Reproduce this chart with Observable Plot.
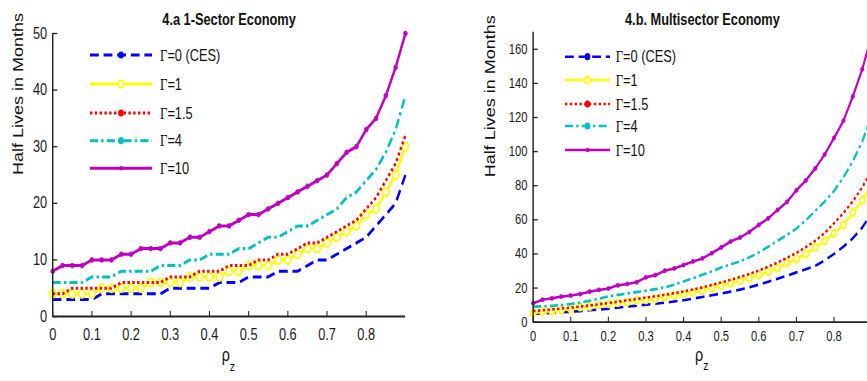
<!DOCTYPE html>
<html><head><meta charset="utf-8">
<script src="https://cdn.jsdelivr.net/npm/d3@7"></script>
<script src="https://cdn.jsdelivr.net/npm/@observablehq/plot@0.6"></script>
<style>
html,body{margin:0;padding:0;background:#fff;}
#wrap{width:867px;height:381px;overflow:hidden;position:relative;background:#fff;}
#stage{position:absolute;left:0;top:0;height:381px;transform-origin:0 0;}
#stage > *{position:absolute;top:0;}
</style></head><body>
<div id="wrap"><div id="stage"></div></div>
<script>
// ---- data ----
const rho = [0,0.025,0.05,0.075,0.1,0.125,0.15,0.175,0.2,0.225,0.25,0.275,0.3,0.325,0.35,0.375,0.4,0.425,0.45,0.475,0.5,0.525,0.55,0.575,0.6,0.625,0.65,0.675,0.7,0.725,0.75,0.775,0.8,0.825,0.85,0.875,0.9];
const legendLabels = ["Γ=0 (CES)","Γ=1","Γ=1.5","Γ=4","Γ=10"];
const xTicks = [0,0.1,0.2,0.3,0.4,0.5,0.6,0.7,0.8];
const xTickLabels = ["0","0.1","0.2","0.3","0.4","0.5","0.6","0.7","0.8"];
const yTicksA = [0,10,20,30,40,50];
const yTicksB = [0,20,40,60,80,100,120,140,160];
const titleA = "4.a 1-Sector Economy";
const titleB = "4.b. Multisector Economy";
const yLabel = "Half Lives in Months";

// 4.a 1-sector economy
const A_g0  = [3,3,3,3,3,4,4,4,4,4,4,4,5,5,5,5,5,6,6,6,7,7,7,8,8,8,9,10,10,11,12,13,14,16,18,20,25];
const A_g1  = [4,4,4,4,4,5,5,5,5,5,6,6,6,6,7,7,7,7,8,8,9,9,9,10,10,11,12,12,13,14,15,16,18,19,22,25,30];
const A_g15 = [4,4,5,5,5,5,5,6,6,6,6,6,7,7,7,8,8,8,9,9,9,10,10,11,11,12,13,13,14,15,16,17,19,21,24,27,32];
const A_g4  = [6,6,6,6,7,7,7,8,8,8,8,9,9,9,10,10,11,11,11,12,12,13,14,14,15,16,16,17,18,19,21,22,24,26,29,33,39];
const A_g10 = [8,9,9,9,10,10,10,11,11,12,12,12,13,13,14,14,15,16,16,17,18,18,19,20,21,22,23,24,25,27,29,30,33,35,39,44,50];

// 4.b multisector economy
const B_g0  = [5.0,5.2,5.5,5.8,6.1,6.5,7.0,7.4,7.9,8.5,9.1,9.7,10.3,10.8,11.4,12.1,12.9,13.8,14.8,15.8,16.8,17.9,19.1,20.5,22.0,23.7,25.5,27.3,29.2,31.0,33.0,36.2,40.0,44.3,49.2,55.5,64.0];
const B_g1  = [5.4,6.2,6.4,7.2,7.6,8.8,9.1,10.1,10.7,11.3,11.7,12.7,13.0,13.6,14.6,15.6,16.5,17.5,18.5,20.0,21.4,22.8,24.3,25.9,27.6,29.6,31.7,34.6,37.0,39.9,43.8,47.7,52.0,57.0,64.2,71.4,81.0];
const B_g15 = [6.5,7.0,7.5,8.0,8.5,9.2,9.8,10.5,11.2,12.0,12.8,13.6,14.4,15.2,16.0,17.0,18.0,19.2,20.4,21.8,23.3,24.8,26.5,28.3,30.3,32.5,35.0,37.7,40.6,44.0,47.7,52.3,58.0,64.0,71.0,79.0,89.0];
const B_g4  = [9.1,9.3,9.6,10.0,10.7,11.5,12.5,13.8,15.2,16.0,16.8,17.6,18.5,19.4,20.4,22.0,23.9,25.8,27.8,29.8,32.1,33.8,35.6,38.0,40.9,44.2,47.7,51.2,54.9,59.8,65.2,70.8,76.9,85.0,94.4,106.0,121.0];
const B_g10 = [11.1,13.2,14.0,15.0,15.6,16.5,17.9,18.9,19.7,21.6,22.4,23.4,26.3,27.6,30.2,31.5,33.5,35.6,37.4,40.5,43.8,47.3,49.6,52.9,57.0,60.9,65.8,70.5,77.3,83.1,90.1,98.3,108.0,118.1,132.4,148.3,168.0];

// ---- styles ----
const S = 0.8; // horizontal compression of the original figure
const FONT = "'Liberation Sans', Arial, Helvetica, sans-serif";
const styles = [
  {color:"#0000ff", dash:"11,6", marker:"dot"},
  {color:"#ffff00", dash:null, marker:"circle"},
  {color:"#ff0000", dash:"3,3", marker:"dot"},
  {color:"#00bfbf", dash:"10,4,3,4", marker:"dot"},
  {color:"#bf00bf", dash:null, marker:"small"}
];

const stage = document.getElementById("stage");
const W = 867 / S;
stage.style.width = W + "px";
stage.style.transform = `scale(${S},1)`;

function panel(cfg) {
  const fw = cfg.width - cfg.mL - cfg.mR;
  const fh = 381 - cfg.mT - cfg.mB;
  const TL = 5; // tick length (inward)
  const marks = [];
  cfg.vals.forEach((vals, i) => {
    const st = styles[i];
    const rows = vals.map((v, j) => ({x: rho[j], v}));
    marks.push(Plot.line(rows, {x: "x", y: "v", stroke: st.color, strokeWidth: cfg.lw,
      strokeDasharray: st.dash, strokeLinecap: "butt", strokeLinejoin: "round"}));
    if (st.marker === "circle") marks.push(Plot.dot(rows, {x: "x", y: "v", r: cfg.circleR, fill: "#fff", stroke: st.color, strokeWidth: 2}));
    if (st.marker === "small") marks.push(Plot.dot(rows, {x: "x", y: "v", r: cfg.dotR, fill: st.color, stroke: st.color, strokeWidth: 0.8}));
  });
  marks.push(Plot.ruleX([0], {stroke: "#222", strokeWidth: 1.8}));
  marks.push(Plot.ruleY([0], {stroke: "#222", strokeWidth: 1.8}));
  marks.push(Plot.tickX(xTicks, {x: d => d, insetTop: fh - TL, stroke: "#222", strokeWidth: 1.3}));
  marks.push(Plot.tickY(cfg.yTicks, {y: d => d, insetRight: fw - TL / S, stroke: "#222", strokeWidth: 1.3}));
  marks.push(Plot.axisX(xTicks, {tickSize: 0, tickPadding: cfg.xPad, fontSize: cfg.tickFont, label: null,
    tickFormat: d => xTickLabels[xTicks.indexOf(d)], fill: "#1a1a1a"}));
  marks.push(Plot.axisY(cfg.yTicks, {tickSize: 0, tickPadding: 7, fontSize: cfg.tickFont, label: null, fill: "#1a1a1a"}));
  marks.push(Plot.text([cfg.title], {text: d => d, frameAnchor: "top", dy: cfg.titleDy, fontWeight: "bold", fontSize: 16, fill: "#111"}));
  marks.push(Plot.text([yLabel], {text: d => d, frameAnchor: "left", rotate: -90, dx: cfg.ylabDx, fontSize: 18, fill: "#111"}));
  marks.push(Plot.text(["ρ"], {text: d => d, frameAnchor: "bottom", textAnchor: "end", dx: 1, dy: cfg.rhoDy, fontSize: 18, fill: "#111"}));
  marks.push(Plot.text(["z"], {text: d => d, frameAnchor: "bottom", textAnchor: "start", dx: 1, dy: cfg.zDy, fontSize: 13, fill: "#111"}));
  const p = Plot.plot({
    width: cfg.width, height: 381,
    marginLeft: cfg.mL, marginRight: cfg.mR, marginTop: cfg.mT, marginBottom: cfg.mB,
    x: {domain: [0, 0.9], axis: null, label: null},
    y: {domain: cfg.yDomain, axis: null, label: null},
    style: {fontFamily: FONT, background: "transparent", overflow: "visible", color: "#111"},
    marks
  });
  p.style.left = cfg.left + "px";
  stage.appendChild(p);
}

panel({vals: [A_g0, A_g1, A_g15, A_g4, A_g10], yDomain: [0, 50], yTicks: yTicksA,
  left: 0, width: 537.5, mL: 65.4, mR: 31.25, mT: 33, mB: 65,
  tickFont: 16, xPad: 12, lw: 3, circleR: 4, dotR: 2.4,
  title: titleA, titleDy: -19.8, ylabDx: -43.3, rhoDy: 44.2, zDy: 54.8});

panel({vals: [B_g0, B_g1, B_g15, B_g4, B_g10], yDomain: [0, 170], yTicks: yTicksB,
  left: 537.5, width: 571.1, mL: 127.9, mR: 20, mT: 31.7, mB: 59.3,
  tickFont: 14, xPad: 8.5, lw: 2.6, circleR: 3.4, dotR: 2.1,
  title: titleB, titleDy: -18.5, ylabDx: -52.9, rhoDy: 38.5, zDy: 48});

// ---- legends ----
const lg = d3.select(stage).append("svg").attr("width", W).attr("height", 381)
  .style("left", "0px").style("pointer-events", "none").style("overflow", "visible");
function legend(cfg) {
  styles.forEach((st, i) => {
    const y = cfg.rows[i];
    lg.append("line").attr("x1", cfg.x1).attr("x2", cfg.x2).attr("y1", y).attr("y2", y)
      .attr("stroke", st.color).attr("stroke-width", cfg.lw).attr("stroke-dasharray", st.dash);
    const xm = (cfg.x1 + cfg.x2) / 2;
    if (st.marker === "dot") lg.append("circle").attr("cx", xm).attr("cy", y).attr("r", 3.6).attr("fill", st.color);
    if (st.marker === "circle") lg.append("circle").attr("cx", xm).attr("cy", y).attr("r", 3.6).attr("fill", "#fff").attr("stroke", st.color).attr("stroke-width", 2);
    if (st.marker === "small") lg.append("circle").attr("cx", xm).attr("cy", y).attr("r", 2.2).attr("fill", st.color);
    const t = lg.append("text").attr("x", cfg.xt).attr("y", y).attr("dy", "0.36em")
      .attr("font-size", 16).attr("font-family", FONT).attr("fill", "#111");
    t.append("tspan").attr("font-family", "'Liberation Serif', 'Times New Roman', serif").text(legendLabels[i].slice(0, 1));
    t.append("tspan").text(legendLabels[i].slice(1));
  });
}
legend({x1: 90 / S, x2: 152 / S, xt: 160 / S, rows: [55, 84, 113, 140.7, 168.3], lw: 3});
legend({x1: 565 / S, x2: 610 / S, xt: 615.7 / S, rows: [56.7, 80, 104, 126, 150], lw: 2.6});
</script>
</body></html>
